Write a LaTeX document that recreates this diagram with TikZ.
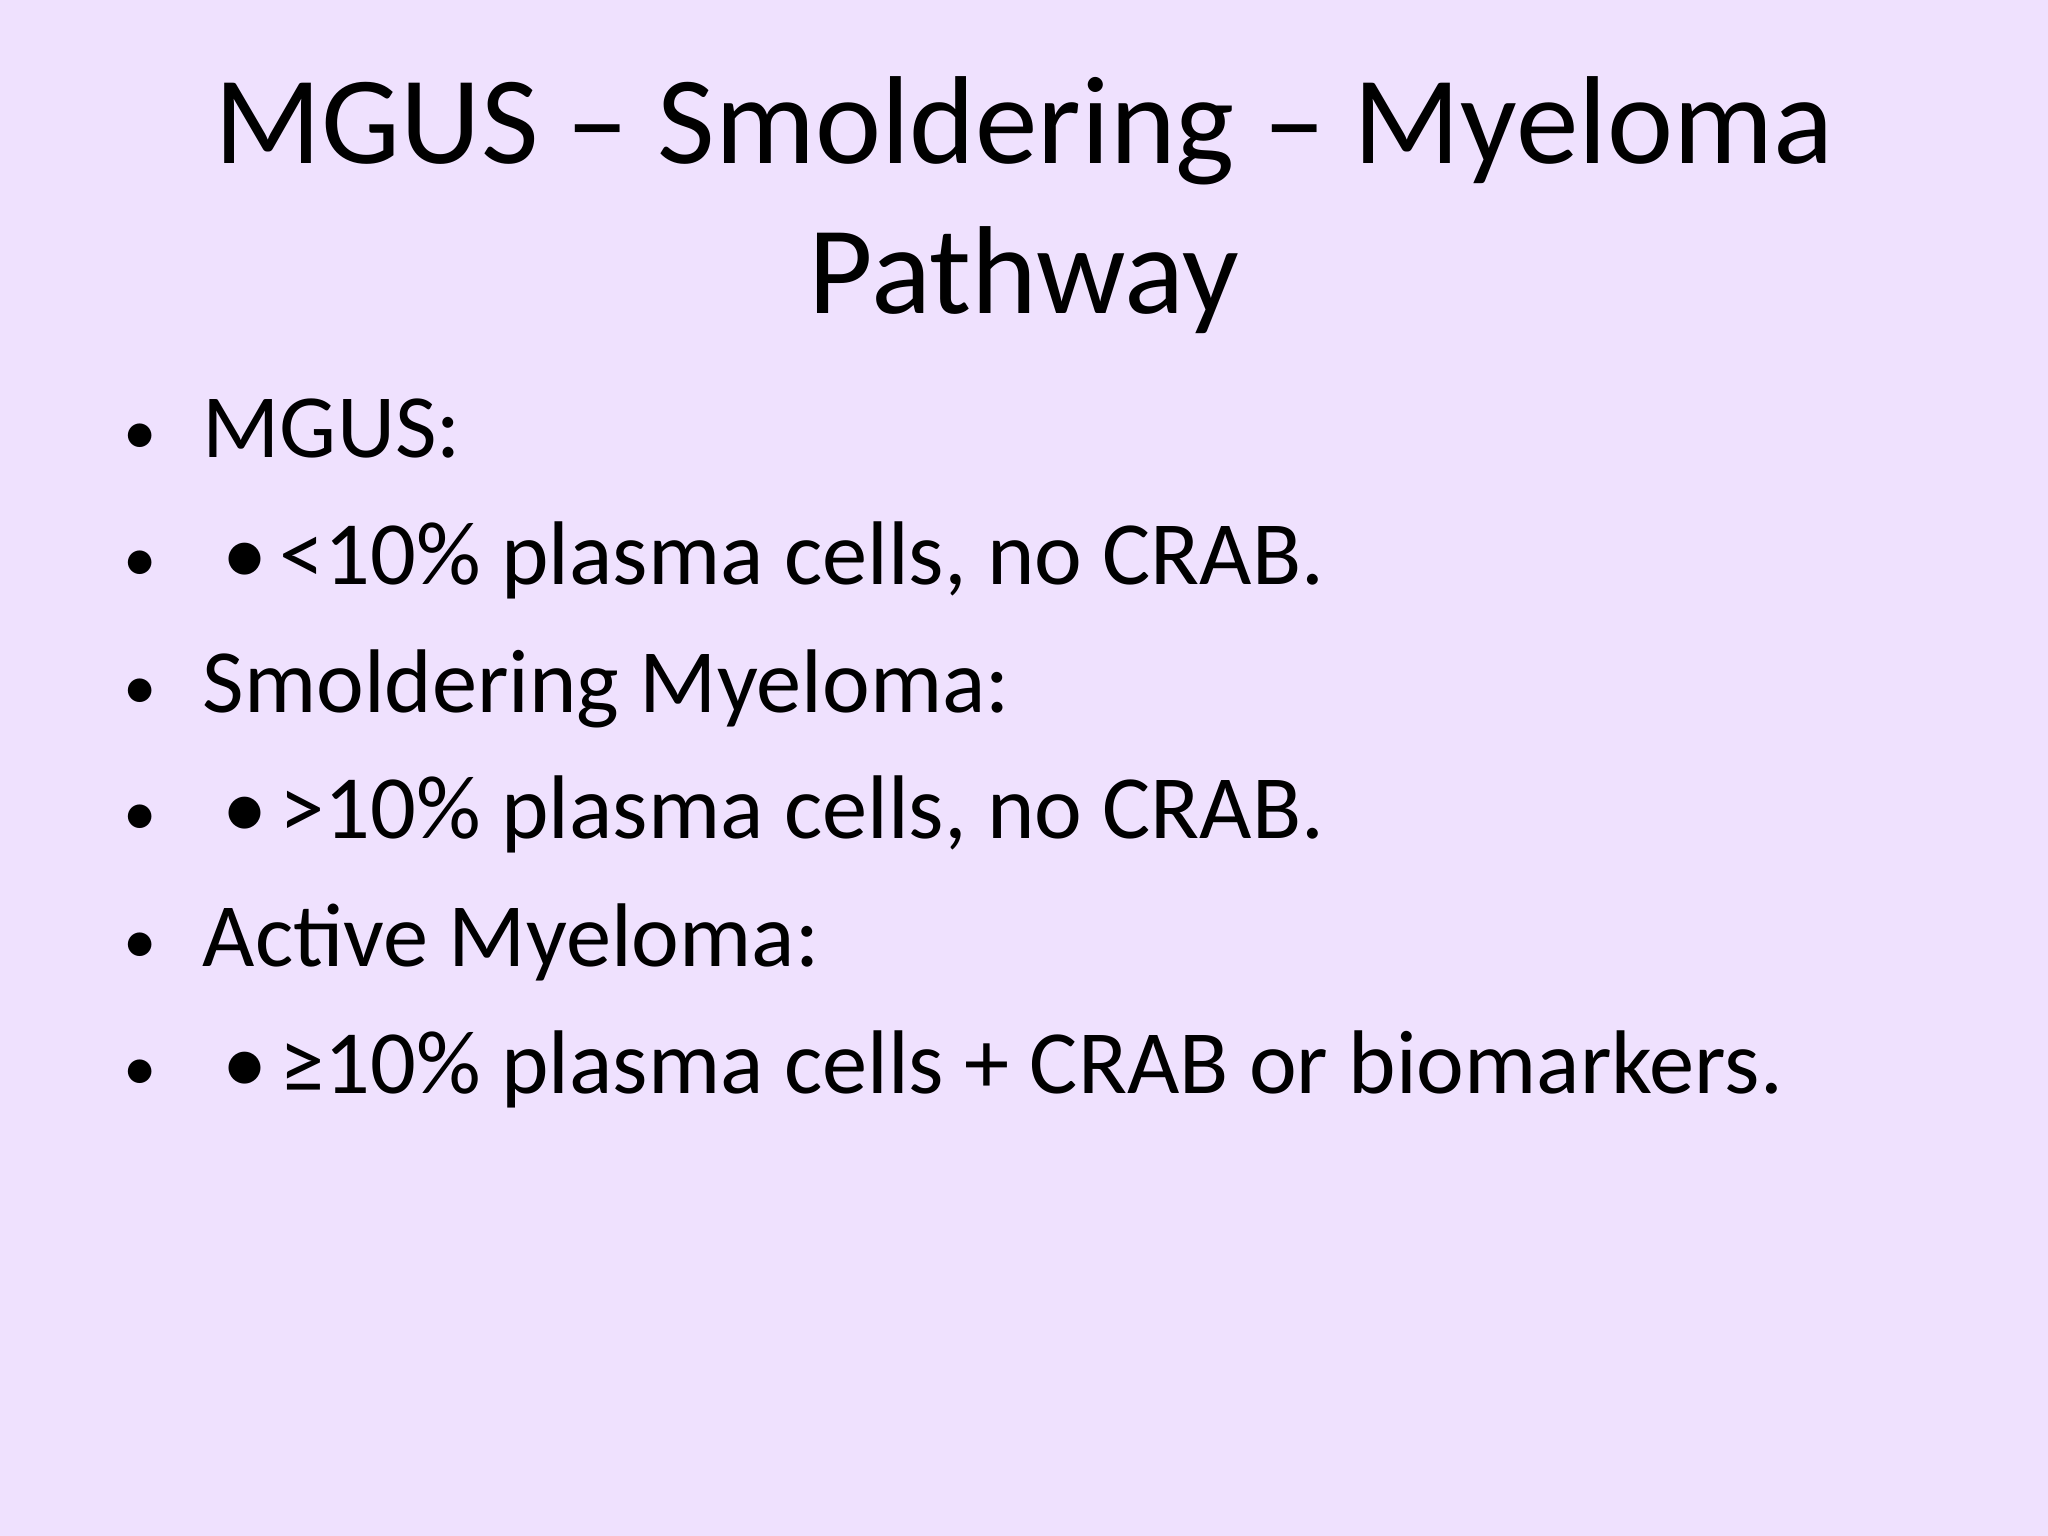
\documentclass[tikz,border=0pt]{standalone}
\usepackage{fontspec}
\setmainfont{Carlito}
\definecolor{bg}{HTML}{EFE1FE}
\begin{document}
\begin{tikzpicture}[x=0.01cm,y=-0.01cm,
  ttl/.style={anchor=base,font=\fontsize{35.6}{40}\selectfont,inner sep=0},
  itm/.style={anchor=base west,font=\fontsize{25.7}{30}\selectfont,inner sep=0},
  dot/.style={anchor=base,font=\fontsize{19}{30}\selectfont,inner sep=0}]
\fill[bg] (0,0) rectangle (2048,1536);
\useasboundingbox (0,0) rectangle (2048,1536);
\node[ttl] (t1) at (1024,163) {MGUS – Smoldering – Myeloma};
\node[ttl] (t2) at (1024,313) {Pathway};
\foreach \y/\n in {457/1,584/2,712/3,838/4,966/5,1093/6}
  \node[dot] (b\n) at (140,\y-3) {•};
\node[itm] (i1) at (202,457) {MGUS:};
\node[itm] (i2) at (202,584) {\hspace{0.2cm}•\hspace{0.12cm}<10\% plasma cells, no CRAB.};
\node[itm] (i3) at (202,712) {Smoldering Myeloma:};
\node[itm] (i4) at (202,838) {\hspace{0.2cm}•\hspace{0.12cm}>10\% plasma cells, no CRAB.};
\node[itm] (i5) at (202,966) {Active Myeloma:};
\node[itm] (i6) at (202,1093) {\hspace{0.2cm}•\hspace{0.12cm}≥10\% plasma cells + CRAB or biomarkers.};
\end{tikzpicture}
\end{document}
